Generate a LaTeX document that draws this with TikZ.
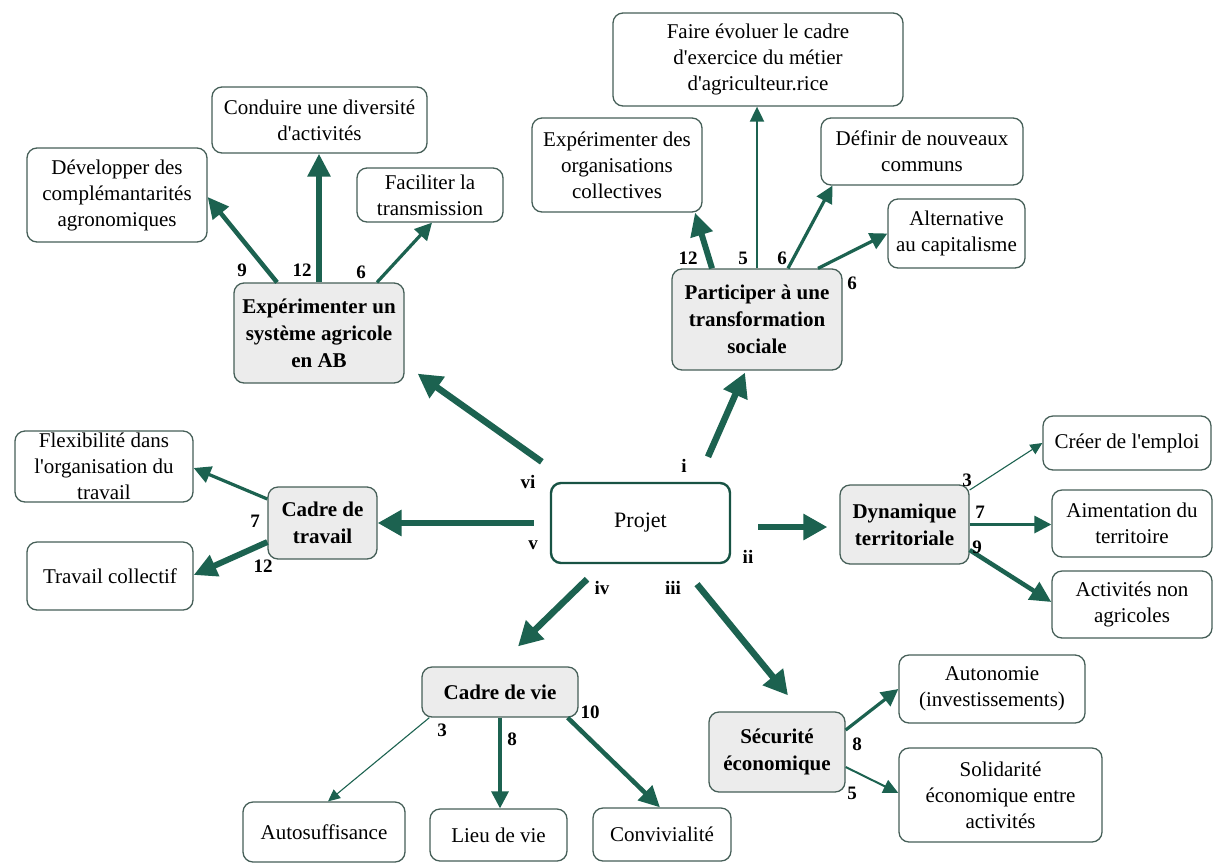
\documentclass[tikz,border=0pt]{standalone}
\usepackage{fontspec}
\setmainfont{Liberation Serif}[Ligatures=TeXOff]
\usetikzlibrary{arrows.meta}
\definecolor{arr}{RGB}{28,98,80}
\definecolor{bord}{RGB}{70,95,88}
\definecolor{catfill}{RGB}{236,236,236}
\tikzset{
  box/.style={draw=bord, line width=1.3pt, rounded corners=10pt, fill=white, align=center, inner sep=0pt, font=\fontsize{21}{26}\selectfont},
  cat/.style={box, fill=catfill, font=\fontsize{21}{27}\selectfont\bfseries},
  num/.style={font=\fontsize{19}{19}\selectfont\bfseries, inner sep=0pt, text=black},
  wa/.style={draw=arr, line width=1.1pt, -{Triangle[length=12pt,width=11pt]}},
  wb/.style={draw=arr, line width=2pt, -{Triangle[length=15pt,width=14pt]}},
  wc/.style={draw=arr, line width=3.2pt, -{Triangle[length=17pt,width=17pt]}},
  wd/.style={draw=arr, line width=4.5pt, -{Triangle[length=21pt,width=20pt]}},
  we/.style={draw=arr, line width=6pt, -{Triangle[length=23pt,width=22pt]}},
  wm/.style={draw=arr, line width=6.5pt, -{Triangle[length=24pt,width=25pt]}},
}
\begin{document}
\begin{tikzpicture}[x=1pt,y=-1pt]
\useasboundingbox (0,0) rectangle (1217,863);
% leaves
\node[box, minimum width=290pt, minimum height=93pt] (faire) at (758,59.5) {Faire évoluer le cadre\\d'exercice du métier\\d'agriculteur.rice};
\node[box, minimum width=215pt, minimum height=66pt] (conduire) at (319.5,120) {Conduire une diversité\\d'activités};
\node[box, minimum width=180pt, minimum height=94pt] (dev) at (117,195) {Développer des\\complémantarités\\agronomiques};
\node[box, minimum width=146pt, minimum height=54pt] (facil) at (430,195) {Faciliter la\\transmission};
\node[box, minimum width=170pt, minimum height=94pt] (exporg) at (617,165) {Expérimenter des\\organisations\\collectives};
\node[box, minimum width=202pt, minimum height=67pt] (definir) at (922,151.5) {Définir de nouveaux\\communs};
\node[box, minimum width=137pt, minimum height=69pt] (altern) at (956.5,233.5) {Alternative\\au capitalisme};
\node[box, minimum width=178pt, minimum height=71pt] (flex) at (104,466.5) {Flexibilité dans\\l'organisation du\\travail};
\node[box, minimum width=166pt, minimum height=68pt] (travcol) at (110,576) {Travail collectif};
\node[box, minimum width=168pt, minimum height=54pt] (creer) at (1127,443) {Créer de l'emploi};
\node[box, minimum width=160pt, minimum height=67pt] (aiment) at (1132,523.5) {Aimentation du\\territoire};
\node[box, minimum width=160pt, minimum height=67pt] (activ) at (1132,604.5) {Activités non\\agricoles};
\node[box, minimum width=186pt, minimum height=68pt] (autonomie) at (992,689) {Autonomie\\(investissements)};
\node[box, minimum width=203pt, minimum height=94pt] (solid) at (1000.5,795) {Solidarité\\économique entre\\activités};
\node[box, minimum width=162pt, minimum height=60pt] (autosuf) at (324,832) {Autosuffisance};
\node[box, minimum width=137pt, minimum height=52pt] (lieu) at (498.5,835) {Lieu de vie};
\node[box, minimum width=138pt, minimum height=53pt] (conviv) at (662,834.5) {Convivialité};
% categories
\node[cat, minimum width=170pt, minimum height=100pt] (ab) at (319,333) {Expérimenter un\\système agricole\\en AB};
\node[cat, minimum width=170pt, minimum height=101pt] (part) at (757,319.5) {Participer à une\\transformation\\sociale};
\node[cat, minimum width=109pt, minimum height=72pt] (cadtrav) at (322.5,523) {Cadre de\\travail};
\node[cat, minimum width=129pt, minimum height=79pt] (dyn) at (904.5,524.5) {Dynamique\\territoriale};
\node[cat, minimum width=156pt, minimum height=50pt] (cadvie) at (500,692) {Cadre de vie};
\node[cat, minimum width=136pt, minimum height=80pt] (secu) at (777,752) {Sécurité\\économique};
% centre
\node[box, line width=2.4pt, draw=arr!85!black, minimum width=179pt, minimum height=80pt, font=\fontsize{22}{26}\selectfont] (projet) at (640.5,523) {Projet};

% main arrows
\draw[wm] ([xshift=-8pt,yshift=20pt]projet.north west) -- ([xshift=13pt,yshift=10pt]ab.south east);
\draw[wm] ([xshift=67.5pt,yshift=25pt]projet.north) -- ([xshift=-12pt,yshift=-2pt]part.south);
\draw[wm] ([xshift=-16pt]projet.west) -- (cadtrav.east);
\draw[wm] ([xshift=27pt,yshift=-4pt]projet.east) -- ([xshift=-12pt,yshift=-2.5pt]dyn.west);
\draw[wm] ([xshift=-53.5pt,yshift=-15pt]projet.south) -- ([xshift=18pt,yshift=20pt]cadvie.north);
\draw[wm] ([xshift=56.5pt,yshift=-20pt]projet.south) -- ([xshift=11pt,yshift=16pt]secu.north);
\node[num] (lvi) at (528,482) {vi};
\node[num] (li) at (684,466) {i};
\node[num] (lv) at (533,545) {v};
\node[num] (lii) at (748,557) {ii};
\node[num] (liv) at (602,588) {iv};
\node[num] (liii) at (673,588) {iii};

% AB
\draw[wd] ([xshift=-42pt]ab.north) -- ([yshift=-2pt]dev.east);
\draw[we] (ab.north) -- (ab.north |- conduire.south);
\draw[wc] ([xshift=58pt]ab.north) -- ([xshift=2pt]facil.south);
\node[num] (n1) at (242,270) {9};
\node[num] (n2) at (302,270) {12};
\node[num] (n3) at (361,272) {6};

% Participer
\draw[we] ([xshift=-45pt]part.north) -- ([xshift=78pt]exporg.south);
\draw[wb] (part.north) -- (part.north |- faire.south);
\draw[wc] ([xshift=31pt]part.north) -- ([xshift=12pt]definir.south west);
\draw[wc] ([xshift=61pt]part.north) -- (altern.west);
\node[num] (n4) at (688,258) {12};
\node[num] (n5) at (743,258) {5};
\node[num] (n6) at (782,258) {6};
\node[num] (n7) at (852,283) {6};

% Cadre de travail
\draw[wc] ([yshift=24pt]cadtrav.west) -- ([yshift=-1.5pt]flex.east);
\draw[we] ([yshift=-19pt]cadtrav.west) -- ([yshift=1pt]travcol.east);
\node[num] (n8) at (255,521) {7};
\node[num] (n9) at (263,566) {12};

% Dynamique
\draw[wa] ([yshift=34.5pt]dyn.east) -- (creer.west);
\draw[wc] (dyn.east) -- (dyn.east -| aiment.west);
\draw[wd] ([yshift=-25.5pt]dyn.east) -- ([yshift=2.5pt]activ.west);
\node[num] (n10) at (967,480) {3};
\node[num] (n11) at (980,512) {7};
\node[num] (n12) at (977,547) {9};

% Cadre de vie
\draw[wa] ([xshift=8pt]cadvie.south west) -- ([xshift=4pt]autosuf.north);
\draw[wc] (cadvie.south) -- (cadvie.south |- lieu.north);
\draw[wd] ([xshift=-11pt]cadvie.south east) -- ([xshift=-2pt]conviv.north);
\node[num] (n13) at (442,730) {3};
\node[num] (n14) at (512,739) {8};
\node[num] (n15) at (590,712) {10};

% Securite
\draw[wc] ([yshift=22pt]secu.east) -- (autonomie.west);
\draw[wb] ([yshift=-15pt]secu.east) -- ([yshift=2pt]solid.west);
\node[num] (n16) at (857,744) {8};
\node[num] (n17) at (852,793) {5};
\end{tikzpicture}
\end{document}
